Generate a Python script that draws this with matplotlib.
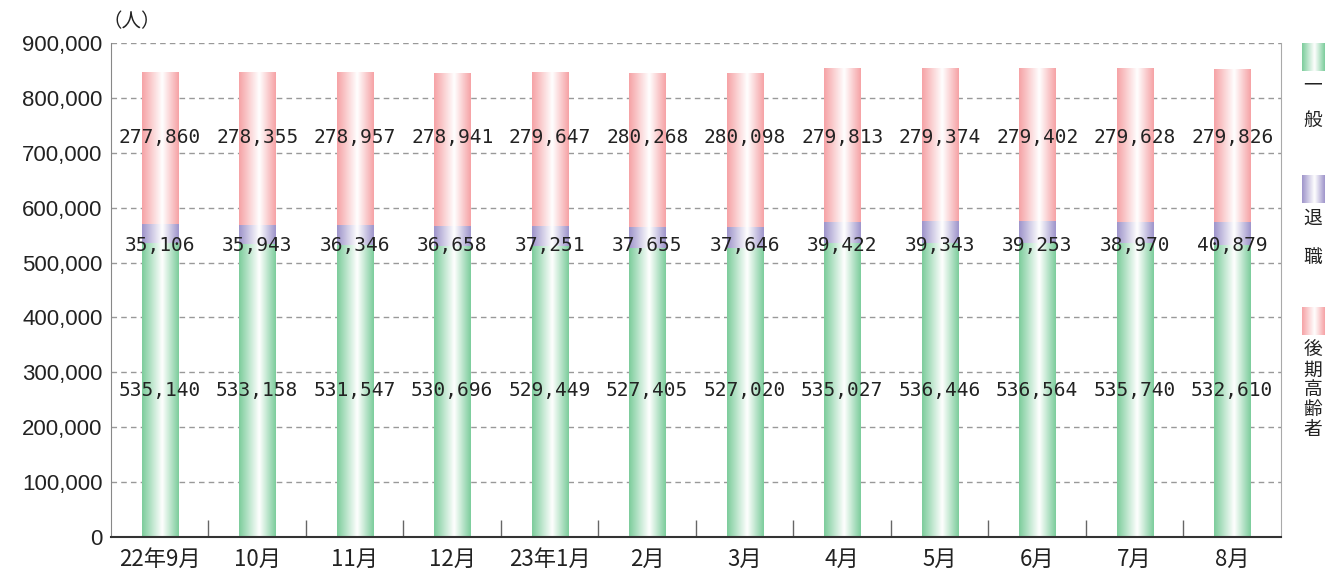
import matplotlib.pyplot as plt
import numpy as np
from matplotlib.colors import LinearSegmentedColormap

plt.rcParams['font.family'] = ['Noto Sans CJK JP', 'DejaVu Sans']

# Data
months = ['22年9月', '10月', '11月', '12月', '23年1月', '2月', '3月',
          '4月', '5月', '6月', '7月', '8月']
ippan = [535140, 533158, 531547, 530696, 529449, 527405, 527020,
         535027, 536446, 536564, 535740, 532610]
taishoku = [35106, 35943, 36346, 36658, 37251, 37655, 37646,
            39422, 39343, 39253, 38970, 40879]
kouki = [277860, 278355, 278957, 278941, 279647, 280268, 280098,
         279813, 279374, 279402, 279628, 279826]
legend_names = ['一般', '退職', '後期高齢者']
colors = ['#7dcd9c', '#9f95cb', '#f6a3a6']

W, H = 1326, 574
fig = plt.figure(figsize=(W / 100, H / 100), dpi=100)
ax = fig.add_axes([0.0837, 0.0645, 0.8823, 0.8605])

x = np.arange(len(months))
width = 0.37


def gradient_cmap(c):
    return LinearSegmentedColormap.from_list(
        'g', [(0.0, c), (0.55, '#ffffff'), (1.0, c)])


bottom = np.zeros(len(months))
for vals, c in zip([ippan, taishoku, kouki], colors):
    bars = ax.bar(x, vals, width, bottom=bottom, color='none', edgecolor='none')
    cmap = gradient_cmap(c)
    img = np.linspace(0, 1, 64).reshape(1, -1)
    for b in bars:
        x0, y0 = b.get_x(), b.get_y()
        im = ax.imshow(img, cmap=cmap, aspect='auto', interpolation='bicubic',
                       extent=[x0, x0 + b.get_width(), y0, y0 + b.get_height()],
                       zorder=2)
        im.set_clip_path(b)
    bottom += np.array(vals)

# value labels at fixed heights
lab_kw = dict(ha='center', va='center', fontsize=14, color='#222222',
              zorder=3, family='DejaVu Sans Mono')
for i in range(len(months)):
    ax.text(x[i], 267000, f'{ippan[i]:,}', **lab_kw)
    ax.text(x[i], 532000, f'{taishoku[i]:,}', **lab_kw)
    ax.text(x[i], 728000, f'{kouki[i]:,}', **lab_kw)

ax.set_xlim(-0.5, len(months) - 0.5)
ax.set_ylim(0, 900000)
ax.set_yticks(np.arange(0, 900001, 100000))
ax.set_yticklabels([f'{v:,}' for v in range(0, 900001, 100000)],
                   family='Liberation Sans')
ax.yaxis.grid(True, linestyle=(0, (4, 3)), color='#999999', linewidth=1)
ax.set_axisbelow(True)
ax.tick_params(axis='y', length=0, labelsize=16, colors='#222222', pad=6)

ax.set_xticks(x)
ax.set_xticklabels(months)
ax.tick_params(axis='x', length=0, labelsize=16, colors='#222222', pad=8)
ax.set_xticks(np.arange(0.5, len(months) - 1, 1), minor=True)
ax.tick_params(axis='x', which='minor', direction='in', length=12,
               color='#666666', width=1)

ax.spines['top'].set_visible(False)
ax.spines['left'].set_color('#888888')
ax.spines['right'].set_color('#aaaaaa')
ax.spines['bottom'].set_color('#333333')
ax.spines['bottom'].set_linewidth(1.5)

fig.text(102 / W, 1 - 22 / H, '（人）', fontsize=14, ha='left', va='center',
         color='#222222')

# legend on the right: swatch with vertical text (pixel positions from top)
swatch_tops = [43, 175, 307]
char_rows = [[85, 120], [218, 257], [350, 370, 390, 410, 430]]
for name, c, top, rows in zip(legend_names, colors, swatch_tops, char_rows):
    lax = fig.add_axes([1302 / W, 1 - (top + 28) / H, 23 / W, 28 / H])
    lax.imshow(np.linspace(0, 1, 64).reshape(1, -1), cmap=gradient_cmap(c),
               aspect='auto', interpolation='bicubic')
    lax.axis('off')
    for ch, yy in zip(name, rows):
        fig.text(1313 / W, 1 - yy / H, ch, fontsize=13.5,
                 ha='center', va='center', color='#222222')

fig.savefig('out.png', dpi=100)
